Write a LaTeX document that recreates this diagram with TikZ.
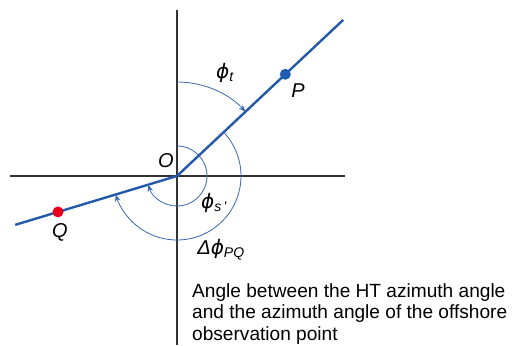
\documentclass[tikz,border=0pt]{standalone}
\usepackage{fontspec}
\setmainfont{Liberation Sans}
\newfontfamily\phifont{DejaVu Sans}
\usetikzlibrary{arrows.meta}
\definecolor{raycol}{HTML}{2458A8}
\definecolor{arccol}{HTML}{3A66B0}
\definecolor{axcol}{HTML}{333333}
\definecolor{pcol}{HTML}{1F5CB0}
\definecolor{qcol}{HTML}{E8001A}
\newcommand{\myphi}{{\phifont\itshape ϕ}}
\newcommand{\mysub}[1]{\textsubscript{\fontsize{14}{14}\selectfont\itshape #1}}
\tikzset{
  axis/.style={draw=axcol,line width=1.4pt},
  ray/.style={draw=raycol,line width=2.4pt},
  anglearc/.style={draw=arccol,line width=0.8pt},
  arctip/.style={-{Stealth[length=7pt,width=5.5pt]}},
  lbl/.style={font=\fontsize{20}{22}\selectfont\itshape,inner sep=0pt},
}
\begin{document}
\begin{tikzpicture}[x=1pt,y=1pt]
\useasboundingbox (-177,-169) rectangle (339,176);
\coordinate (O) at (0,0);
\coordinate (axT) at (0,166);
\coordinate (axB) at (0,-169);
\coordinate (axL) at (-167,0);
\coordinate (axR) at (168,0);
\coordinate (rP) at (43.2:228);
\coordinate (rQ) at (196.8:169);
\draw[axis] (axT) -- (axB);
\draw[axis] (axL) -- (axR);
\draw[ray] (O) -- (rP);
\draw[ray] (O) -- (rQ);
% angle arcs
\draw[anglearc,arctip] (0,94) arc[start angle=90,end angle=43.2,radius=94];
\draw[anglearc,arctip] (0,30) arc[start angle=90,end angle=-163.2,radius=30];
\draw[anglearc,arctip] (43.2:64) arc[start angle=43.2,end angle=-163.2,radius=64];
% points
\fill[pcol] (43.2:148.6) circle (5.5pt) coordinate (P);
\fill[qcol] (196.8:124.3) circle (5.5pt) coordinate (Q);
% labels
\node[lbl] (lP) at (121,85) {P};
\node[lbl] (lQ) at (-117,-56) {Q};
\node[lbl] (lO) at (-11,15) {O};
\node[lbl] (lphit) at (48,103) {\myphi\mysub{t}};
\node[lbl] (lphis) at (37,-27) {\myphi\mysub{s\,\textquotesingle}};
\node[lbl] (ldphi) at (44,-74) {Δ\myphi\mysub{PQ}};
\node[anchor=north west,align=left,inner sep=0pt,font=\fontsize{19.1}{21.5}\selectfont] (txt) at (15,-107)
  {Angle between the HT azimuth angle\\and the azimuth angle of the offshore\\observation point};
\end{tikzpicture}
\end{document}
